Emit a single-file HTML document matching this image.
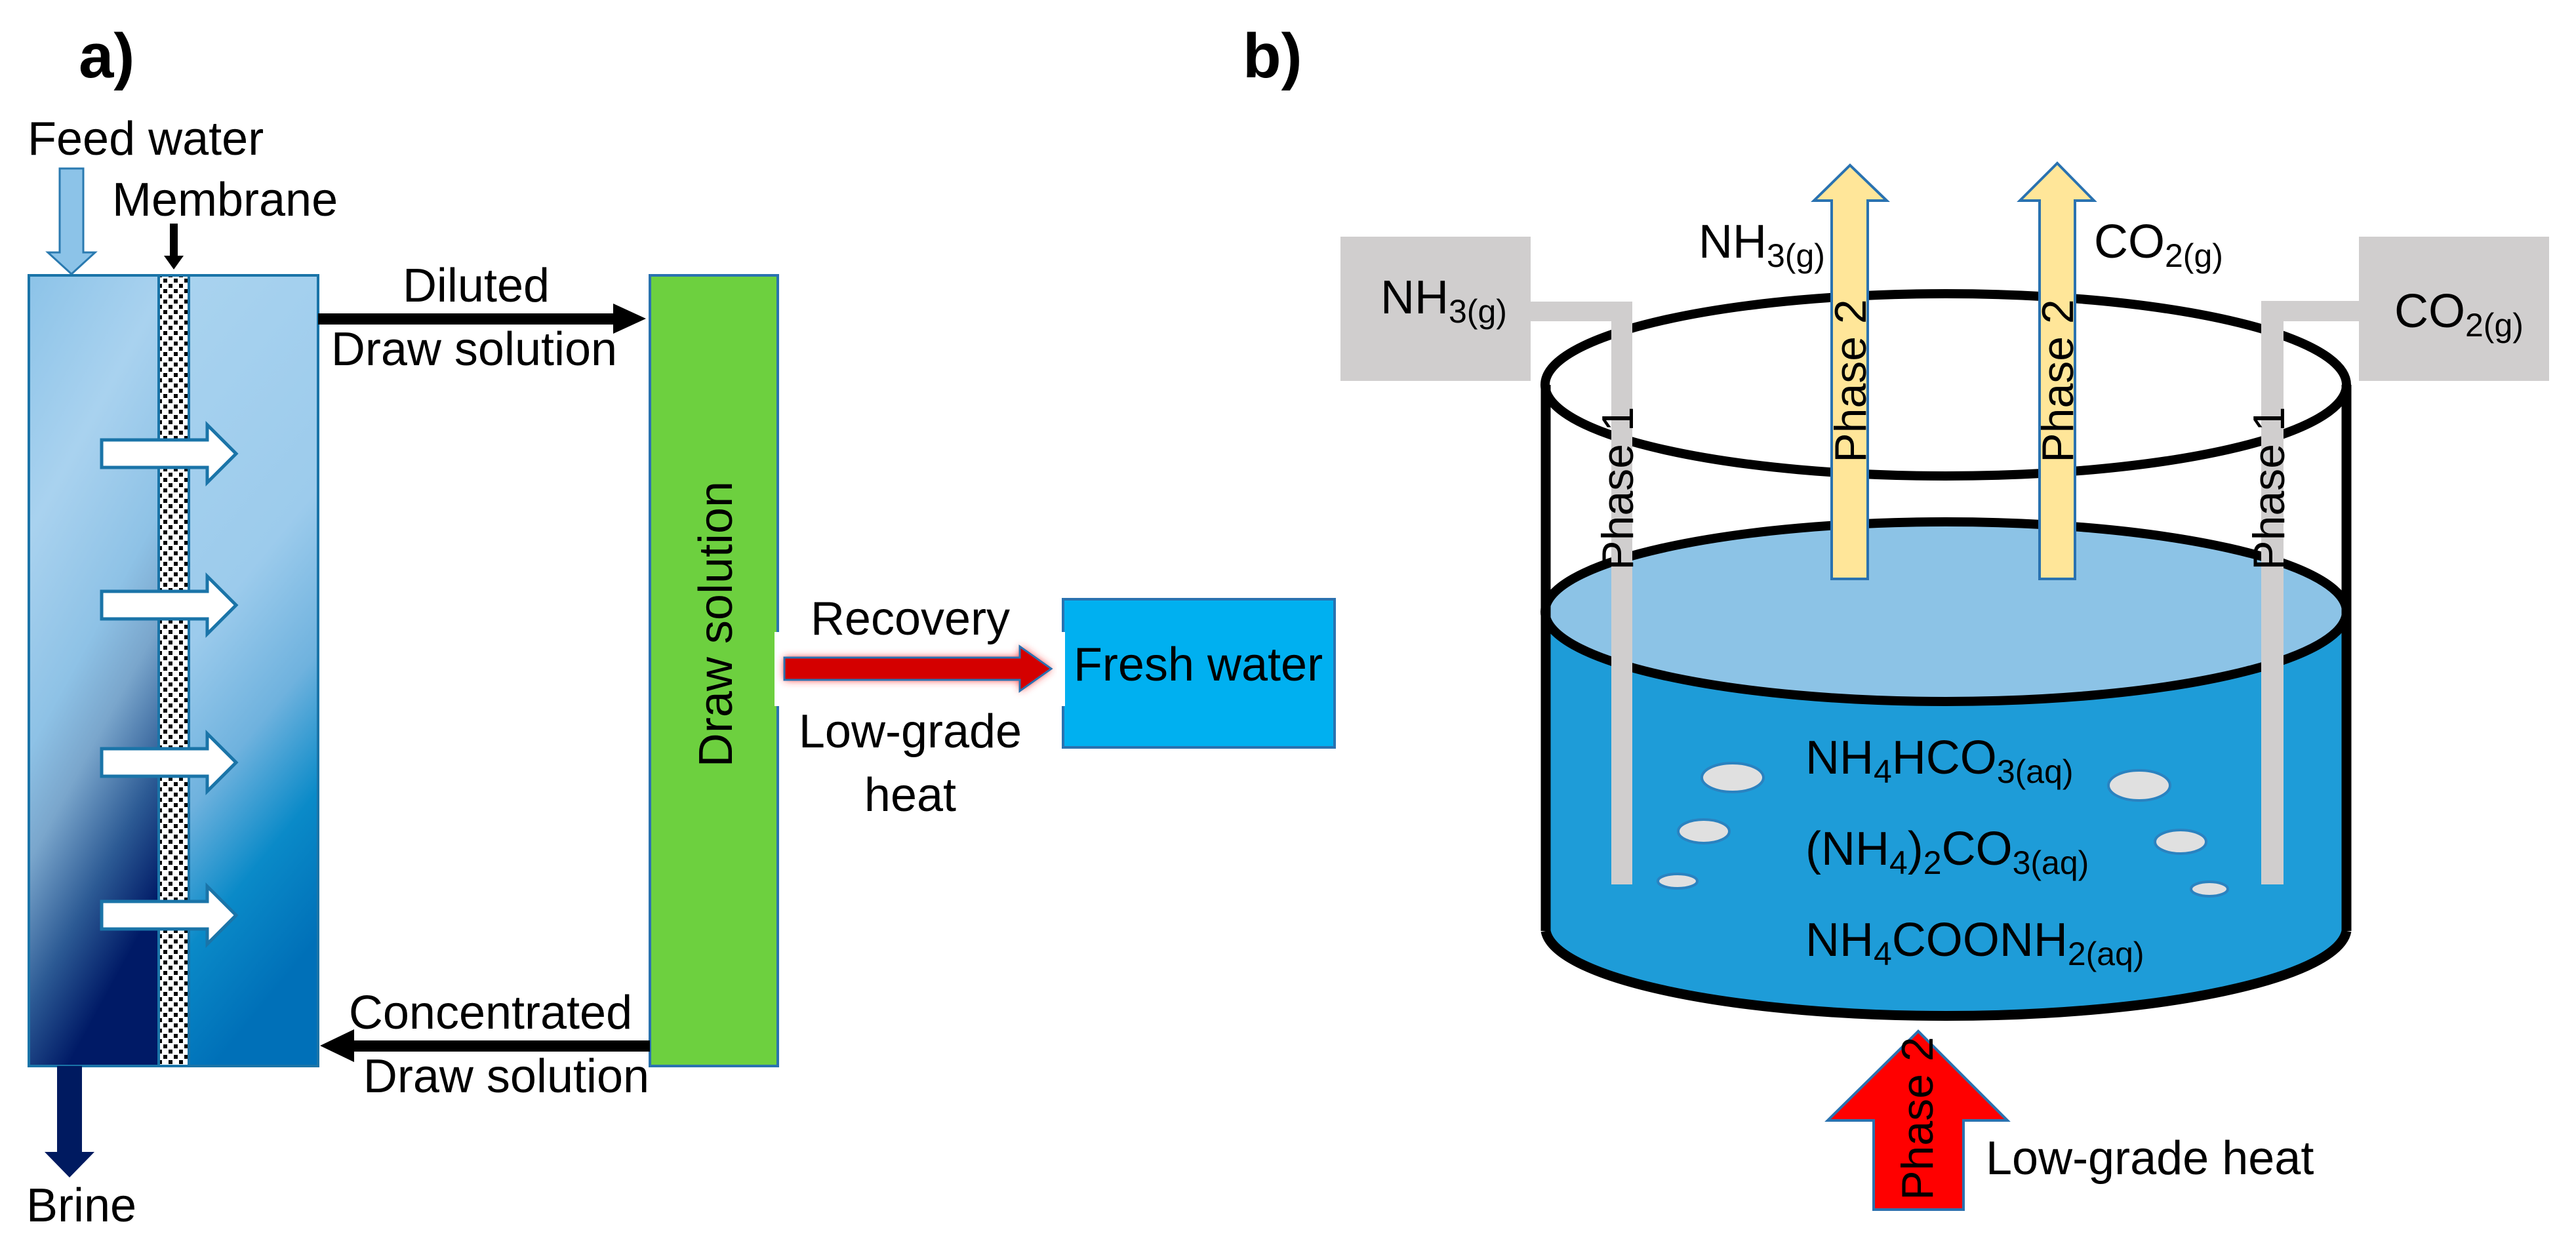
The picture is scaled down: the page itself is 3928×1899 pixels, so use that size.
<!DOCTYPE html>
<html><head><meta charset="utf-8"><style>
html,body{margin:0;padding:0;background:#fff}
svg{display:block}
text{font-family:"Liberation Sans",sans-serif;fill:#000}
</style></head><body>
<svg width="3928" height="1899" viewBox="0 0 3928 1899" xmlns="http://www.w3.org/2000/svg">
<defs>
<linearGradient id="gl" x1="0" y1="0" x2="0.3" y2="1">
<stop offset="0" stop-color="#8cc3e8"/><stop offset="0.3" stop-color="#a9d2ef"/><stop offset="0.55" stop-color="#8ec2e6"/><stop offset="0.68" stop-color="#7aa6cc"/><stop offset="0.85" stop-color="#2c5a94"/><stop offset="1" stop-color="#001a66"/>
</linearGradient>
<linearGradient id="gr" x1="0" y1="0" x2="0.2" y2="1">
<stop offset="0" stop-color="#a9d3ef"/><stop offset="0.45" stop-color="#9ccbec"/><stop offset="0.65" stop-color="#6fb2de"/><stop offset="0.82" stop-color="#0a8ac8"/><stop offset="1" stop-color="#0070b8"/>
</linearGradient>
<pattern id="dots" width="16" height="16" patternUnits="userSpaceOnUse">
<rect width="16" height="16" fill="#fff"/><rect x="1" y="1" width="6" height="6" fill="#000"/><rect x="9" y="9" width="6" height="6" fill="#000"/>
</pattern>
<filter id="glow" x="-20%" y="-50%" width="140%" height="200%"><feGaussianBlur stdDeviation="6"/></filter>
</defs>

<text x="120" y="118" font-size="96" font-weight="bold">a)</text>
<text x="1895" y="118" font-size="96" font-weight="bold">b)</text>

<text x="42" y="236" font-size="72">Feed water</text>
<polygon points="91,257 127,257 127,385 145,385 109,418 73,385 91,385" fill="#8cc3e8" stroke="#2a7ab0" stroke-width="3"/>
<text x="171" y="329" font-size="72">Membrane</text>
<polygon points="259,341 271,341 271,390 280,390 265,411 250,390 259,390" fill="#000"/>

<rect x="44" y="420" width="198" height="1206" fill="url(#gl)"/>
<rect x="288" y="420" width="197" height="1206" fill="url(#gr)"/>
<rect x="242" y="420" width="46" height="1206" fill="url(#dots)"/>
<rect x="44" y="420" width="441" height="1206" fill="none" stroke="#1a74a8" stroke-width="4"/>
<line x1="242" y1="420" x2="242" y2="1626" stroke="#1a74a8" stroke-width="4"/>
<line x1="288" y1="420" x2="288" y2="1626" stroke="#1a74a8" stroke-width="4"/>

<g fill="#fff" stroke="#1a74a8" stroke-width="5">
<polygon points="155,671 316,671 316,648 360,692 316,736 316,713 155,713"/>
<polygon points="155,902 316,902 316,879 360,923 316,967 316,944 155,944"/>
<polygon points="155,1142 316,1142 316,1119 360,1163 316,1207 316,1184 155,1184"/>
<polygon points="155,1375 316,1375 316,1352 360,1396 316,1440 316,1417 155,1417"/>
</g>

<polygon points="87,1626 125,1626 125,1757 144,1757 106,1796 68,1757 87,1757" fill="#001a60"/>
<text x="40" y="1863" font-size="72">Brine</text>

<rect x="485" y="478" width="455" height="17" fill="#000"/>
<polygon points="935,463 985,486 935,509" fill="#000"/>
<text x="726" y="460" font-size="72" text-anchor="middle">Diluted</text>
<text x="723" y="557" font-size="72" text-anchor="middle">Draw solution</text>

<rect x="991" y="420" width="195" height="1206" fill="#6dd03f" stroke="#2a72b0" stroke-width="4"/>
<text transform="translate(1116,952) rotate(-90)" font-size="72" text-anchor="middle">Draw solution</text>

<rect x="535" y="1587" width="456" height="17" fill="#000"/>
<polygon points="540,1570 488,1595 540,1620" fill="#000"/>
<text x="748" y="1569" font-size="72" text-anchor="middle">Concentrated</text>
<text x="772" y="1666" font-size="72" text-anchor="middle">Draw solution</text>

<rect x="1181" y="964" width="446" height="113" fill="#fff"/>
<text x="1388" y="968" font-size="72" text-anchor="middle">Recovery</text>
<polygon points="1196,1003 1555,1003 1555,986 1603,1020 1555,1054 1555,1037 1196,1037" fill="#ff3030" filter="url(#glow)"/>
<polygon points="1196,1003 1555,1003 1555,986 1603,1020 1555,1054 1555,1037 1196,1037" fill="#d40000" stroke="#2a72b0" stroke-width="3"/>
<text x="1388" y="1140" font-size="72" text-anchor="middle">Low-grade</text>
<text x="1388" y="1237" font-size="72" text-anchor="middle">heat</text>

<rect x="1621" y="914" width="414" height="226" fill="#00b0f0" stroke="#2a72b0" stroke-width="4"/>
<rect x="1612" y="964" width="12" height="113" fill="#fff"/>
<text x="1827" y="1038" font-size="72" text-anchor="middle">Fresh water</text>

<path d="M2357,933 L2357,1420 A611,135 0 0 0 3578,1420 L3578,933 Z" fill="#1e9cd8"/>
<ellipse cx="2967" cy="933" rx="611" ry="137" fill="#8cc3e6" stroke="#000" stroke-width="14"/>
<ellipse cx="2967" cy="587" rx="611" ry="139" fill="none" stroke="#000" stroke-width="14"/>
<line x1="2357" y1="587" x2="2357" y2="1420" stroke="#000" stroke-width="15"/>
<line x1="3578" y1="587" x2="3578" y2="1420" stroke="#000" stroke-width="15"/>
<path d="M2357,1420 A611,135 0 0 0 3578,1420" fill="none" stroke="#000" stroke-width="15"/>

<rect x="2044" y="361" width="290" height="220" fill="#d0cece"/>
<rect x="2334" y="460" width="155" height="30" fill="#d0cece"/>
<rect x="2457" y="460" width="32" height="889" fill="#d0cece"/>
<rect x="3597" y="361" width="290" height="220" fill="#d0cece"/>
<rect x="3448" y="459" width="149" height="31" fill="#d0cece"/>
<rect x="3448" y="459" width="34" height="890" fill="#d0cece"/>
<text x="2105" y="478" font-size="72">NH<tspan font-size="50" dy="14">3(g)</tspan></text>
<text x="3651" y="499" font-size="72">CO<tspan font-size="50" dy="14">2(g)</tspan></text>
<text transform="translate(2490,745) rotate(-90)" font-size="68" text-anchor="middle">Phase 1</text>
<text transform="translate(3483,745) rotate(-90)" font-size="68" text-anchor="middle">Phase 1</text>

<polygon points="2793,883 2848,883 2848,306 2877,306 2821,252 2766,306 2793,306" fill="#ffe699" stroke="#2a72b0" stroke-width="4"/>
<polygon points="3110,883 3164,883 3164,306 3193,306 3137,249 3080,306 3110,306" fill="#ffe699" stroke="#2a72b0" stroke-width="4"/>
<text transform="translate(2845,581) rotate(-90)" font-size="68" text-anchor="middle">Phase 2</text>
<text transform="translate(3161,581) rotate(-90)" font-size="68" text-anchor="middle">Phase 2</text>
<text x="2590" y="393" font-size="72">NH<tspan font-size="50" dy="14">3(g)</tspan></text>
<text x="3193" y="393" font-size="72">CO<tspan font-size="50" dy="14">2(g)</tspan></text>

<g fill="#e0e0e0" stroke="#2a82c0" stroke-width="4">
<ellipse cx="2642" cy="1186" rx="47" ry="22"/>
<ellipse cx="2598" cy="1268" rx="39" ry="18"/>
<ellipse cx="2558" cy="1344" rx="30" ry="11"/>
<ellipse cx="3262" cy="1198" rx="47" ry="23"/>
<ellipse cx="3325" cy="1284" rx="39" ry="18"/>
<ellipse cx="3369" cy="1356" rx="28" ry="11"/>
</g>
<text x="2753" y="1180" font-size="72">NH<tspan font-size="50" dy="14">4</tspan><tspan dy="-14">HCO</tspan><tspan font-size="50" dy="14">3(aq)</tspan></text>
<text x="2753" y="1319" font-size="72">(NH<tspan font-size="50" dy="14">4</tspan><tspan dy="-14">)</tspan><tspan font-size="50" dy="14">2</tspan><tspan dy="-14">CO</tspan><tspan font-size="50" dy="14">3(aq)</tspan></text>
<text x="2753" y="1458" font-size="72">NH<tspan font-size="50" dy="14">4</tspan><tspan dy="-14">COONH</tspan><tspan font-size="50" dy="14">2(aq)</tspan></text>

<polygon points="2857,1845 2994,1845 2994,1709 3061,1709 2925,1573 2787,1709 2857,1709" fill="#ff0000" stroke="#2a72b0" stroke-width="4"/>
<text transform="translate(2947,1706) rotate(-90)" font-size="68" text-anchor="middle">Phase 2</text>
<text x="3028" y="1791" font-size="72">Low-grade heat</text>
</svg>
</body></html>
